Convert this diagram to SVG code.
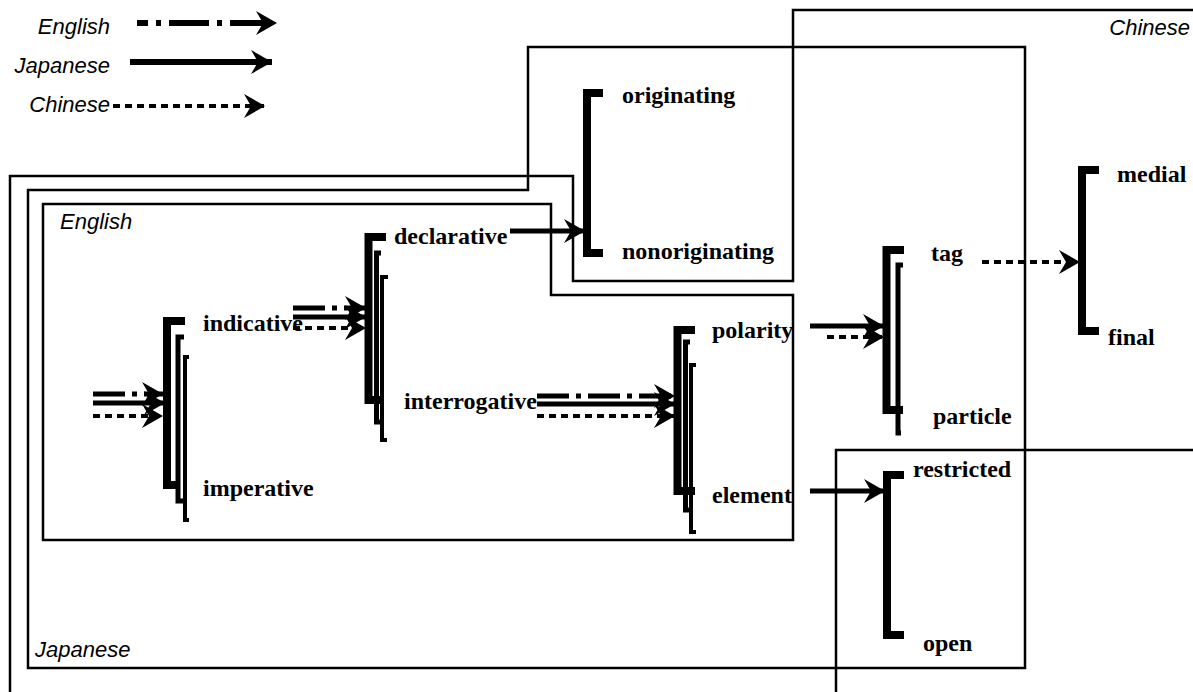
<svg xmlns="http://www.w3.org/2000/svg" width="1193" height="692" viewBox="0 0 1193 692">
<style>
.bg{fill:#fff}
.region{fill:none;stroke:#000;stroke-width:2.5}
.rlabel{font-family:"Liberation Sans",Arial,sans-serif;font-style:italic;font-size:22px;fill:#000}
.lbl{font-family:"Liberation Serif","Times New Roman",serif;font-weight:bold;font-size:24px;fill:#000}
.b1{fill:none;stroke:#000;stroke-width:8}
.b2{fill:none;stroke:#000;stroke-width:5}
.b3{fill:none;stroke:#000;stroke-width:4}
.en{fill:none;stroke:#000;stroke-width:5;stroke-dasharray:32 7 5 7;marker-end:url(#ah)}
.ja{fill:none;stroke:#000;stroke-width:5;marker-end:url(#ah)}
.zh{fill:none;stroke:#000;stroke-width:4;stroke-dasharray:7 5;marker-end:url(#ah)}
</style>
<defs>
<marker id="ah" markerUnits="userSpaceOnUse" markerWidth="26" markerHeight="28" viewBox="-24 -14 26 28" refX="0" refY="0" orient="auto">
<path d="M0,0 L-21,-12 L-14,0 L-21,12 Z" fill="#000"/>
</marker>
</defs>
<rect class="bg" x="0" y="0" width="1193" height="692"/>

<g id="region-chinese">
<polyline class="region" points="10,695 10,176 573,176 573,281 793,281 793,10 1196,10 1196,450 836,450 836,695"/>
<text class="rlabel" x="1190" y="35" text-anchor="end">Chinese</text>
</g>
<g id="region-japanese">
<polygon class="region" points="28,190 528,190 528,47 1025,47 1025,668 28,668"/>
<text class="rlabel" x="35" y="657">Japanese</text>
</g>
<g id="region-english">
<polygon class="region" points="43,204 551,204 551,295 793,295 793,540 43,540"/>
<text class="rlabel" x="60" y="229">English</text>
</g>

<g id="legend">
<text class="rlabel" x="110" y="34" text-anchor="end">English</text>
<text class="rlabel" x="110" y="73" text-anchor="end">Japanese</text>
<text class="rlabel" x="110" y="112" text-anchor="end">Chinese</text>
<path class="en" d="M137,23 H277" style="stroke-width:6;stroke-dasharray:40 8 5 8;stroke-dashoffset:29"/>
<path class="ja" d="M130,62 H272" style="stroke-width:6"/>
<path class="zh" d="M113,106 H265"/>
</g>

<g id="sys-mood">
<path class="b1" d="M185,321 H167 V485 H180"/>
<path class="b2" d="M184,337 H178 V501 H183"/>
<path class="b3" d="M189,357 H185 V520 H189"/>
<text class="lbl" x="203" y="331">indicative</text>
<text class="lbl" x="203" y="496">imperative</text>
</g>

<g id="sys-indicative">
<path class="b1" d="M386,237 H368.5 V400 H383"/>
<path class="b2" d="M381,253 H376.5 V422 H380"/>
<path class="b3" d="M388,277 H382 V440 H387"/>
<text class="lbl" x="394" y="244">declarative</text>
<text class="lbl" x="404" y="409">interrogative</text>
</g>

<g id="sys-interrogative">
<path class="b1" d="M695,330 H677.5 V491 H695"/>
<path class="b2" d="M690,342 H685.5 V510 H689"/>
<path class="b3" d="M696,365 H691 V532 H696"/>
<text class="lbl" x="712" y="338">polarity</text>
<text class="lbl" x="712" y="503">element</text>
</g>

<g id="sys-declarative">
<path class="b1" d="M603,93 H587 V253 H603"/>
<text class="lbl" x="622" y="103">originating</text>
<text class="lbl" x="622" y="259">nonoriginating</text>
</g>

<g id="sys-polarity">
<path class="b1" d="M904,250 H886.5 V410 H903"/>
<path class="b2" d="M903,265 H898 V433 H901"/>
<text class="lbl" x="931" y="261">tag</text>
<text class="lbl" x="933" y="424">particle</text>
</g>

<g id="sys-element">
<path class="b1" d="M904,475 H887 V635 H904"/>
<text class="lbl" x="913" y="477">restricted</text>
<text class="lbl" x="923" y="651">open</text>
</g>

<g id="sys-tag">
<path class="b1" d="M1099,170 H1082 V331 H1099"/>
<text class="lbl" x="1117" y="182">medial</text>
<text class="lbl" x="1108" y="345">final</text>
</g>

<g id="connectors">
<path class="en" d="M93,394 H163"/>
<path class="ja" d="M93,403 H165"/>
<path class="zh" d="M93,416 H163"/>
<path class="en" d="M293,308 H366"/>
<path class="ja" d="M293,317 H366"/>
<path class="zh" d="M293,328 H366"/>
<path class="en" d="M537,396 H675"/>
<path class="ja" d="M537,404 H675"/>
<path class="zh" d="M537,416 H675"/>
<path class="ja" d="M510,231 H585"/>
<path class="ja" d="M810,326 H884"/>
<path class="zh" d="M827,337 H884"/>
<path class="ja" d="M810,491 H885"/>
<path class="zh" d="M982,262 H1080"/>
</g>
</svg>
